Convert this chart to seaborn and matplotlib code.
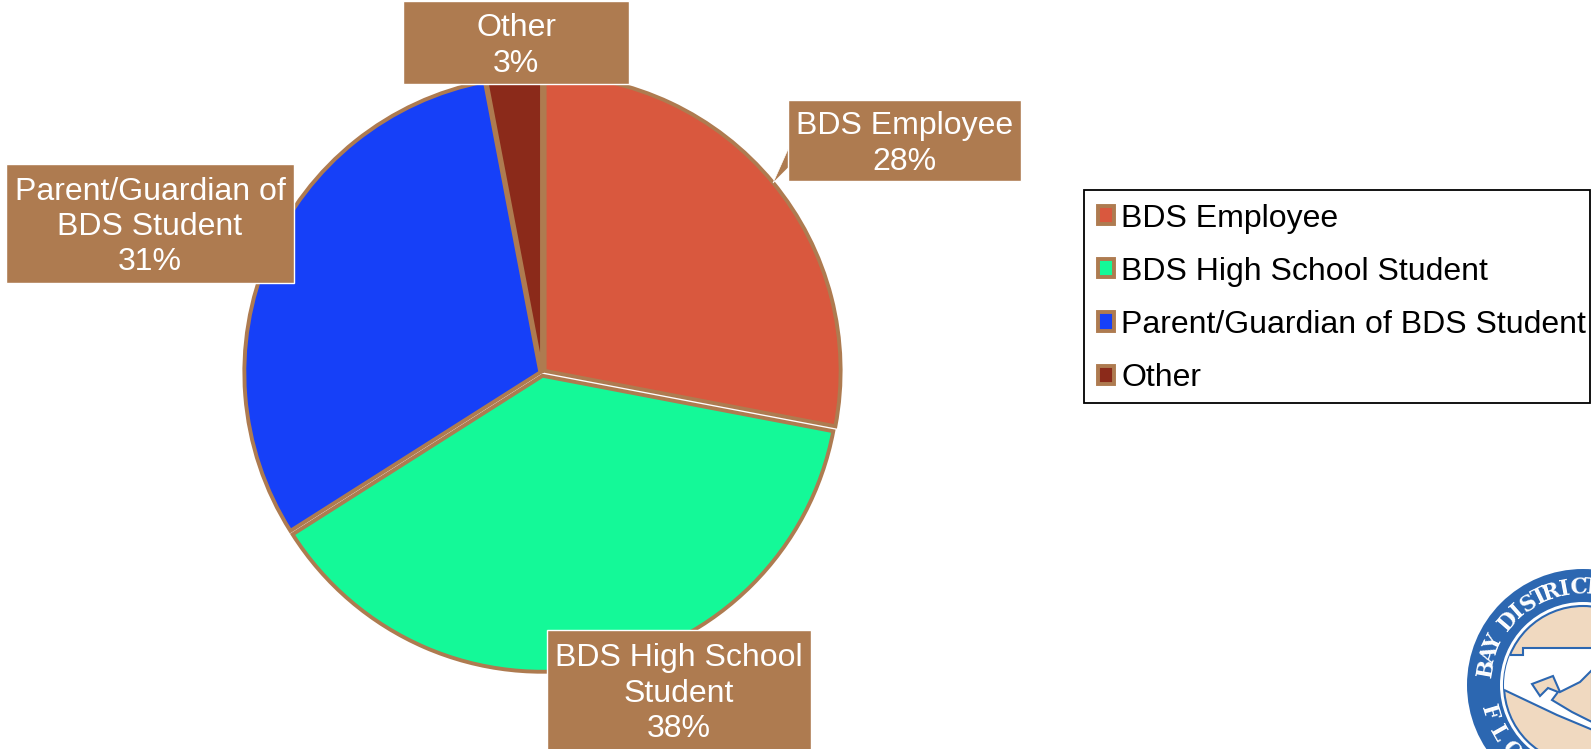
import matplotlib
matplotlib.use('Agg')
import matplotlib.pyplot as plt
import seaborn as sns
from matplotlib.patches import Circle, Polygon, Rectangle
import numpy as np

# data
categories = ['BDS Employee', 'BDS High School Student', 'Parent/Guardian of BDS Student', 'Other']
shares = [28, 38, 31, 3]
box_labels = ['BDS Employee', 'BDS High School\nStudent', 'Parent/Guardian of\nBDS Student', 'Other']
colors = ['#D9583E', '#14F998', '#1640F8', '#8B2A1A']

BROWN = '#AE7B50'
W, H = 1591, 749

sns.set_theme(style='white')
plt.rcParams['font.family'] = ['Liberation Sans', 'DejaVu Sans']
sns.set_palette(colors)


def flip(y):
    return H - y


fig = plt.figure(figsize=(W / 100, H / 100), dpi=100)
ax = fig.add_axes([0, 0, 1, 1])

# explode is in data units here, so these are pixels
wedges, _ = ax.pie(shares, colors=colors, startangle=90, counterclock=False,
                   center=(542, flip(373)), radius=296, explode=[3.4, 2.8, 1.8, 0],
                   wedgeprops={'edgecolor': BROWN, 'linewidth': 2.8}, frame=True)
ax.set_xlim(0, W)
ax.set_ylim(0, H)
ax.set_xticks([])
ax.set_yticks([])
for s in ax.spines.values():
    s.set_visible(False)

# label boxes: x0, y0, x1, y1 in picture pixels
boxes = [(788, 100, 1021, 181), (547, 630, 811, 750), (6, 164, 294, 283), (403, 1, 629, 84)]
# callout of the first box
ax.add_patch(Polygon([(789, flip(147)), (773, flip(183)), (789, flip(167))],
                     closed=True, fc=BROWN, ec='white', lw=0.5, zorder=4))
for b, name, val in zip(boxes, box_labels, shares):
    ax.add_patch(Rectangle((b[0], flip(b[3])), b[2] - b[0], b[3] - b[1], fc=BROWN,
                           ec='white', lw=1.0, zorder=5))
    ax.text((b[0] + b[2]) / 2, flip((b[1] + b[3]) / 2 + 3.5), f'{name}\n{val}%', color='white',
            fontsize=23, ha='center', va='center', linespacing=1.22, zorder=6)

# legend, its frame is drawn apart so it sits where the reference has it
ax.add_patch(Rectangle((1084, flip(403)), 506, 213.5, fc='white', ec='black', lw=1.3, zorder=6))
leg = ax.legend(wedges, categories, loc='upper left', bbox_to_anchor=(1084, flip(189.5)),
                bbox_transform=ax.transData, borderaxespad=0, fontsize=23, frameon=False,
                labelcolor='black', handlelength=0.5, handleheight=0.5, handletextpad=0.22,
                labelspacing=0.725, borderpad=0.44)
leg.set_zorder(7)

# district seal in the corner
cx, cy, blue, cream = 1583, 685, '#2C67B1', '#F0D9C0'
ax.add_patch(Circle((cx, flip(cy)), 116, fc=blue, ec='none', zorder=2))
ax.add_patch(Circle((cx, flip(cy)), 83, fc='white', ec='none', zorder=2))
ax.add_patch(Circle((cx, flip(cy)), 79, fc=cream, ec=blue, lw=1.5, zorder=2))
land = [(1500, 655), (1523, 655), (1523, 648), (1600, 648), (1600, 733), (1557, 715), (1500, 688)]
land_patch = Polygon([(x, flip(y)) for x, y in land], closed=True, fc='white', ec=blue, lw=1.5, zorder=3)
ax.add_patch(land_patch)
land_patch.set_clip_path(Circle((cx, flip(cy)), 79, transform=ax.transData))
bay = [(1532, 684), (1553, 676), (1560, 692), (1580, 682), (1592, 670), (1592, 722), (1572, 712),
       (1552, 700), (1558, 692), (1548, 688), (1540, 696)]
ax.add_patch(Polygon([(x, flip(y)) for x, y in bay], closed=True, fc=cream, ec=blue, lw=1.5, zorder=3))


def ring_text(word, start, step, bottom=False):
    for i, ch in enumerate(word):
        a = np.radians(start + i * step)
        x = cx + 98 * np.sin(a)
        y = cy - 98 * np.cos(a)
        rot = -np.degrees(a) + (180 if bottom else 0)
        if ch != ' ':
            ax.text(x, flip(y), ch, color='white', fontsize=15.5, family='DejaVu Serif', weight='bold',
                    rotation=rot, rotation_mode='anchor', ha='center', va='center', zorder=4, clip_on=True)


ring_text('BAY DISTRICT', -80, 7.7)
ring_text('FLOR', -106.5, -13, bottom=True)

fig.savefig('out.png', dpi=100, facecolor='white')
